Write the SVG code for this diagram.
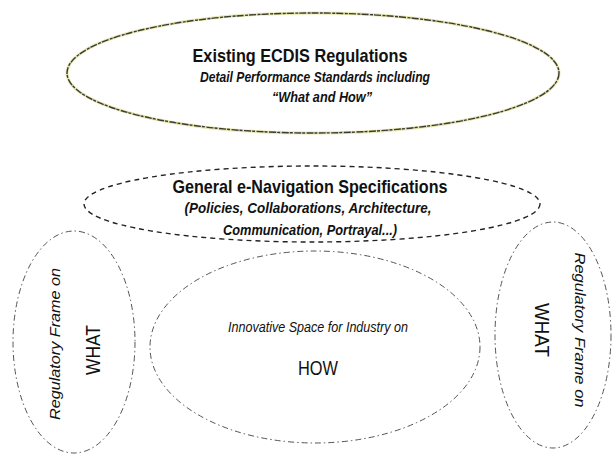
<svg xmlns="http://www.w3.org/2000/svg" width="613" height="456" viewBox="0 0 613 456">
<style>
.bg{fill:#ffffff}
.top{fill:none;stroke:#e6e6b4;stroke-width:3}
.topd{fill:none;stroke:#3b3b30;stroke-width:1.4;stroke-dasharray:7 1.5 3 1}
.spec{fill:none;stroke:#222;stroke-width:1.4;stroke-dasharray:5 4}
.dd{fill:none;stroke:#555;stroke-width:1;stroke-dasharray:6 3 1.5 3}
text{font-family:"Liberation Sans",Arial,sans-serif;fill:#111}
.h{font-weight:bold;font-size:19px}
.bi{font-weight:bold;font-style:italic;font-size:14px}
.it{font-style:italic;font-size:14px}
.big{font-size:21px}
</style>
<rect class="bg" x="0" y="0" width="613" height="456"/>
<g id="existing-ecdis">
<ellipse class="top" cx="313" cy="73" rx="246" ry="60"/>
<ellipse class="topd" cx="313" cy="73" rx="246" ry="60"/>
<text class="h" x="300" y="62" text-anchor="middle" textLength="215" lengthAdjust="spacingAndGlyphs">Existing ECDIS Regulations</text>
<text class="bi" x="315" y="82" text-anchor="middle" textLength="230" lengthAdjust="spacingAndGlyphs">Detail Performance Standards including</text>
<text class="bi" x="322" y="102" text-anchor="middle" textLength="100" lengthAdjust="spacingAndGlyphs">“What and How”</text>
</g>
<g id="general-enav">
<ellipse class="spec" cx="312" cy="204" rx="228" ry="38"/>
<text class="h" x="310" y="193" text-anchor="middle" font-size="17" textLength="275" lengthAdjust="spacingAndGlyphs">General e-Navigation Specifications</text>
<text class="bi" x="308" y="213" text-anchor="middle" textLength="247" lengthAdjust="spacingAndGlyphs">(Policies, Collaborations, Architecture,</text>
<text class="bi" x="310" y="235" text-anchor="middle" textLength="174" lengthAdjust="spacingAndGlyphs">Communication, Portrayal...)</text>
</g>
<g id="regulatory-left">
<ellipse class="dd" cx="74" cy="342" rx="61" ry="111"/>
<text class="it" transform="translate(60,344) rotate(-90)" text-anchor="middle" font-size="15" textLength="152" lengthAdjust="spacingAndGlyphs">Regulatory Frame on</text>
<text class="big" transform="translate(100,350) rotate(-90)" text-anchor="middle" textLength="50" lengthAdjust="spacingAndGlyphs">WHAT</text>
</g>
<g id="innovative-space">
<ellipse class="dd" cx="315" cy="347" rx="165" ry="96"/>
<text class="it" x="318" y="332" text-anchor="middle" textLength="180" lengthAdjust="spacingAndGlyphs">Innovative Space for Industry on</text>
<text class="big" x="318" y="375" text-anchor="middle" textLength="40" lengthAdjust="spacingAndGlyphs">HOW</text>
</g>
<g id="regulatory-right">
<ellipse class="dd" cx="553" cy="335" rx="58" ry="113"/>
<text class="it" transform="translate(575,330) rotate(90)" text-anchor="middle" font-size="15" textLength="155" lengthAdjust="spacingAndGlyphs">Regulatory Frame on</text>
<text class="big" transform="translate(535,330) rotate(90)" text-anchor="middle" textLength="54" lengthAdjust="spacingAndGlyphs">WHAT</text>
</g>
<g id="connectors"></g>
</svg>
